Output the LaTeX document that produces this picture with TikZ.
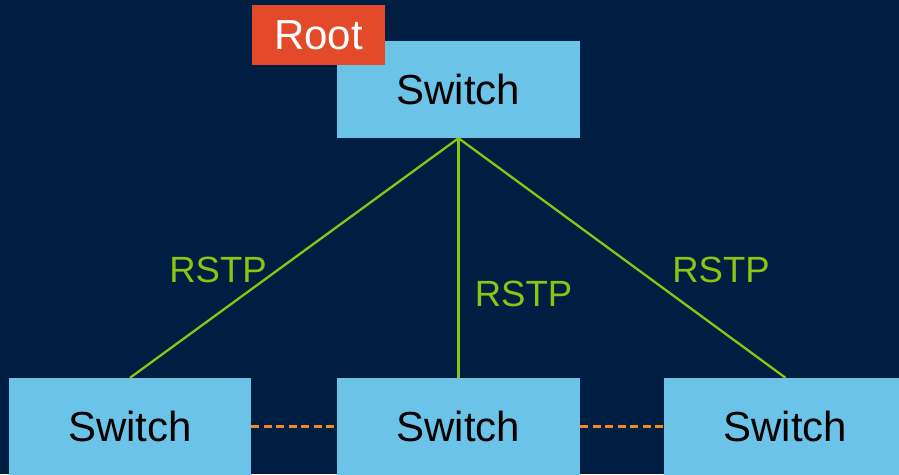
\documentclass[tikz,border=0pt]{standalone}
\usepackage{fontspec}
\setmainfont{Liberation Sans}
\definecolor{bgnavy}{RGB}{0,30,65}
\definecolor{swblue}{RGB}{108,195,232}
\definecolor{rootred}{RGB}{227,74,42}
\definecolor{linkgreen}{RGB}{140,196,20}
\definecolor{altorange}{RGB}{240,140,30}
\begin{document}
\begin{tikzpicture}[x=1pt,y=-1pt,
  swbox/.style={fill=swblue, draw=none, minimum width=243pt, minimum height=97pt, inner sep=0pt, font=\fontsize{42}{46}\selectfont, text=black},
  rootbox/.style={fill=rootred, draw=none, minimum width=133pt, minimum height=60pt, inner sep=0pt, font=\fontsize{42}{46}\selectfont, text=white},
  link/.style={draw=linkgreen, line width=2.3pt},
  altlink/.style={draw=altorange, line width=2.5pt, dash pattern=on 8pt off 4.5pt},
  lbl/.style={text=linkgreen, font=\fontsize{36.5}{40}\selectfont, inner sep=0pt}]
\path[use as bounding box, fill=bgnavy] (0,0) rectangle (899,474);
\begin{scope}
\clip (0,0) rectangle (899,474);
\node[swbox] (top) at (458.5,89.5) {Switch};
\node[rootbox] (root) at (318.5,35) {Root};
\node[swbox, minimum width=242pt] (left) at (130,426.5) {Switch};
\node[swbox] (mid) at (458.5,426.5) {Switch};
\node[swbox] (right) at (785.5,426.5) {Switch};
\draw[link] (top.south) -- (left.north);
\draw[link] (top.south) -- (mid.north);
\draw[link] (top.south) -- (right.north);
\draw[altlink] (left.east) -- (mid.west);
\draw[altlink] (mid.east) -- (right.west);
\node[lbl] (l1) at (218,270) {RSTP};
\node[lbl] (l2) at (523.5,293.5) {RSTP};
\node[lbl] (l3) at (721,270) {RSTP};
\end{scope}
\end{tikzpicture}
\end{document}
